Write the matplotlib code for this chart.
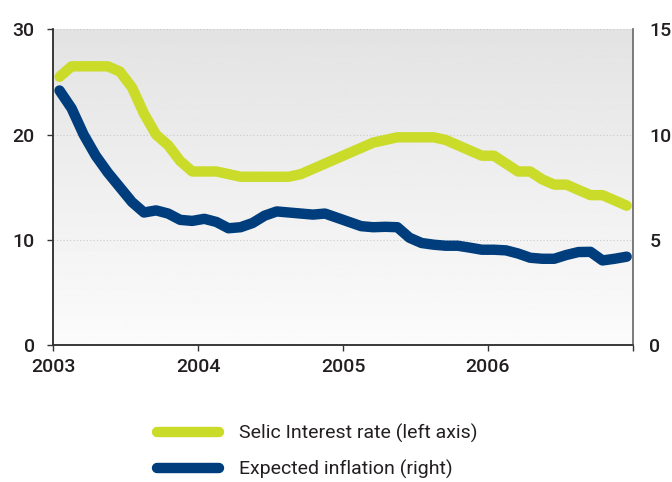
import numpy as np
import matplotlib
matplotlib.use("Agg")
import matplotlib.pyplot as plt

plt.rcParams['font.family'] = ['Roboto', 'DejaVu Sans']

# monthly observations, Jan 2003 - Dec 2006
years = [2003, 2004, 2005, 2006]
selic = [25.5, 26.5, 26.5, 26.5, 26.5, 26.0, 24.5, 22.0, 20.0, 19.0, 17.5, 16.5,
         16.5, 16.5, 16.25, 16.0, 16.0, 16.0, 16.0, 16.0, 16.25, 16.75, 17.25, 17.75,
         18.25, 18.75, 19.25, 19.5, 19.75, 19.75, 19.75, 19.75, 19.5, 19.0, 18.5, 18.0,
         18.0, 17.25, 16.5, 16.5, 15.75, 15.25, 15.25, 14.75, 14.25, 14.25, 13.75, 13.25]
inflation = [12.1, 11.25, 10.0, 9.0, 8.2, 7.5, 6.8, 6.3, 6.4, 6.25, 5.95, 5.9,
             6.0, 5.85, 5.55, 5.6, 5.8, 6.15, 6.35, 6.3, 6.25, 6.2, 6.25, 6.05,
             5.85, 5.65, 5.6, 5.62, 5.6, 5.1, 4.85, 4.77, 4.72, 4.72, 4.63, 4.53,
             4.53, 4.5, 4.35, 4.15, 4.1, 4.1, 4.28, 4.42, 4.43, 4.02, 4.1, 4.2]
labels = ['Selic Interest rate (left axis)', 'Expected inflation (right)']

green = '#cadb2a'
blue = '#003d7c'
txt = '#231f20'

months = np.arange(len(selic))
x = years[0] + (months + 0.5) / 12

fig = plt.figure(figsize=(6.72, 4.82), dpi=100)
ax = fig.add_axes([0.0796, 0.2842, 0.9415 - 0.0796, 0.9388 - 0.2842])
ax2 = ax.twinx()

# soft grey-to-white backdrop
grad = np.linspace(0.89, 0.985, 256).reshape(-1, 1)
ax.imshow(grad, extent=[0, 1, 0, 1], transform=ax.transAxes, cmap='gray',
          vmin=0, vmax=1, aspect='auto', zorder=0)

for v in [10, 20, 30]:
    ax.axhline(v, color='#c9cacc', lw=0.8, ls=(0, (1, 2)), zorder=1)

l1, = ax.plot(x, selic, color=green, lw=7.5, solid_capstyle='round',
              solid_joinstyle='round', zorder=3)
l2, = ax2.plot(x, inflation, color=blue, lw=7.5, solid_capstyle='round',
               solid_joinstyle='round', zorder=3)

ax.set_xlim(2003, 2007)
ax.set_ylim(0, 30)
ax2.set_ylim(0, 15)
ax.set_xticks([2003, 2004, 2005, 2006, 2007])
ax.set_xticklabels(['2003', '2004', '2005', '2006', ''])
ax.set_yticks([0, 10, 20, 30])
ax2.set_yticks([0, 5, 10, 15])

for a in (ax, ax2):
    a.spines['top'].set_visible(False)
    a.spines['left'].set_color('#333333')
    a.spines['bottom'].set_color('#333333')
    a.spines['right'].set_color('#777777')
    for s in a.spines.values():
        s.set_linewidth(1.1)

ax.tick_params(axis='y', length=4.5, width=1, color='#333333', pad=9,
               labelsize=14, labelcolor=txt)
ax.tick_params(axis='x', length=4.5, width=1, color='#333333', pad=5,
               labelsize=14, labelcolor=txt)
ax2.tick_params(axis='y', length=0, pad=12, labelsize=14, labelcolor=txt)
for t in ax.get_xticklabels() + ax.get_yticklabels() + ax2.get_yticklabels():
    t.set_fontweight('medium')

fig.legend([l1, l2], labels, loc='upper left', bbox_to_anchor=(0.208, 0.157),
           frameon=False, handlelength=3.2, handletextpad=1.0, labelspacing=0.88,
           prop={'size': 14}, labelcolor=txt)

fig.savefig('out.png', dpi=100)
